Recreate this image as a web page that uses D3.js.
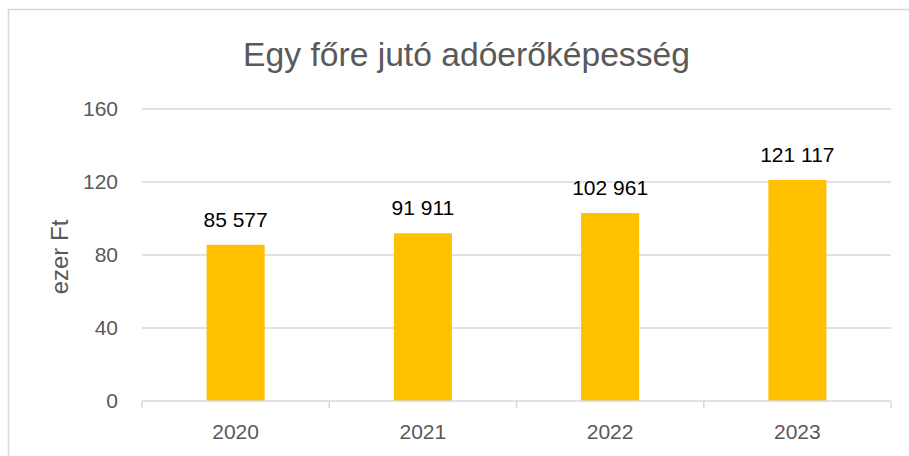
<!DOCTYPE html>
<html>
<head>
<meta charset="utf-8">
<script src="https://cdn.jsdelivr.net/npm/d3@7"></script>
<style>
  html, body { margin: 0; padding: 0; background: #fff; }
  svg { display: block; font-family: "Liberation Sans", Arial, sans-serif; }
</style>
</head>
<body>
<svg id="chart" width="909" height="456"></svg>
<script>
const title = "Egy főre jutó adóerőképesség";
const yAxisTitle = "ezer Ft";
const categories = ["2020", "2021", "2022", "2023"];
const values = [85.577, 91.911, 102.961, 121.117];
const valueLabels = ["85 577", "91 911", "102 961", "121 117"];
const yTicks = [0, 40, 80, 120, 160];

const svg = d3.select("#chart");
const W = 909, H = 456;
const plot = { left: 142, right: 891, top: 109, bottom: 401 };

svg.append("rect").attr("width", W).attr("height", H).attr("fill", "#fff");
// outer chart border
svg.append("rect")
  .attr("x", 8.5).attr("y", 9.5)
  .attr("width", W + 20).attr("height", H + 20)
  .attr("fill", "none").attr("stroke", "#d9d9d9").attr("stroke-width", 1.5);

const x = d3.scaleBand().domain(categories)
  .range([plot.left, plot.right]).paddingInner(0.69).paddingOuter(0.345);
const y = d3.scaleLinear().domain([0, 160]).range([plot.bottom, plot.top]);

// gridlines
svg.append("g").selectAll("line").data(yTicks.filter(d => d > 0)).join("line")
  .attr("x1", plot.left).attr("x2", plot.right)
  .attr("y1", d => y(d)).attr("y2", d => y(d))
  .attr("stroke", "#d9d9d9").attr("stroke-width", 1.5);

// y tick labels
const yAxis = d3.axisLeft(y).tickValues(yTicks).tickSize(0).tickPadding(24);
const gy = svg.append("g").attr("transform", `translate(${plot.left},0)`).call(yAxis);
gy.select(".domain").remove();
gy.selectAll("text").attr("fill", "#595959").style("font-size", "21px")
  .attr("font-family", "'Liberation Sans', Arial, sans-serif");

// bars
svg.append("g").selectAll("rect").data(values).join("rect")
  .attr("x", (d, i) => x(categories[i]))
  .attr("width", x.bandwidth())
  .attr("y", d => y(d))
  .attr("height", d => y(0) - y(d))
  .attr("fill", "#FFC000");

// data labels
svg.append("g").selectAll("text").data(values).join("text")
  .attr("x", (d, i) => x(categories[i]) + x.bandwidth() / 2)
  .attr("y", d => y(d) - 18)
  .attr("text-anchor", "middle")
  .attr("fill", "#000")
  .style("font-size", "21px")
  .text((d, i) => valueLabels[i]);

// x axis line and category boundary ticks
svg.append("line")
  .attr("x1", plot.left).attr("x2", plot.right)
  .attr("y1", plot.bottom).attr("y2", plot.bottom)
  .attr("stroke", "#d9d9d9").attr("stroke-width", 1.5);
const step = x.step();
const bounds = d3.range(categories.length + 1).map(i => plot.left + i * step);
svg.append("g").selectAll("line").data(bounds).join("line")
  .attr("x1", d => d).attr("x2", d => d)
  .attr("y1", plot.bottom).attr("y2", plot.bottom + 7)
  .attr("stroke", "#d9d9d9").attr("stroke-width", 1.5);

// x labels
svg.append("g").selectAll("text").data(categories).join("text")
  .attr("x", d => x(d) + x.bandwidth() / 2)
  .attr("y", 439)
  .attr("text-anchor", "middle")
  .attr("fill", "#595959")
  .style("font-size", "21px")
  .text(d => d);

// y axis title
svg.append("text")
  .attr("transform", `translate(68,${(plot.top + plot.bottom) / 2 + 2}) rotate(-90)`)
  .attr("text-anchor", "middle")
  .attr("fill", "#595959")
  .style("font-size", "24px")
  .text(yAxisTitle);

// title
const t = svg.append("text")
  .attr("x", 466.5).attr("y", 66)
  .attr("text-anchor", "middle")
  .attr("fill", "#595959")
  .style("font-size", "32px")
  .text(title);
const len = t.node().getComputedTextLength();
t.style("font-size", (32 * 447 / len).toFixed(2) + "px");
</script>
</body>
</html>
